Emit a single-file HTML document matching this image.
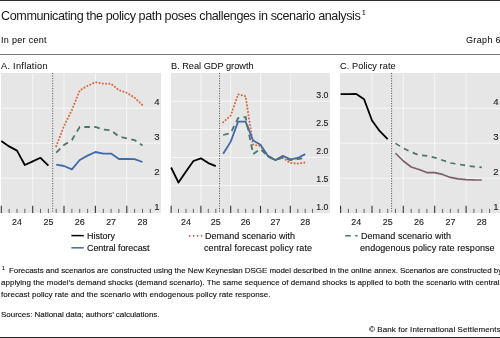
<!DOCTYPE html>
<html><head><meta charset="utf-8"><style>
html,body{margin:0;padding:0;background:#fff;}
svg{display:block;will-change:transform;}
text{font-family:"Liberation Sans", sans-serif;fill:#111;stroke:#111;stroke-width:0.12px;}
#title{stroke-width:0;fill:#1a1a1a;}
#inpc,#graph6,#tA,#tB,#tC{stroke-width:0.05px;}
.title{font-size:13px;}
.s9{font-size:9px;}
.t{font-size:9.6px;fill:#222;stroke:#222;}
.s85{font-size:8.6px;}
.fn{font-size:7.8px;}
</style></head><body>
<svg width="500" height="338" viewBox="0 0 500 338">
<rect x="0" y="0" width="500" height="338" fill="#fff"/>
<rect x="0" y="0" width="500" height="1" fill="#2e2e2e"/>
<rect x="0" y="337" width="500" height="1" fill="#262626"/>
<rect x="0" y="54" width="500" height="1" fill="#777"/>
<rect x="1" y="73" width="160" height="140" fill="#e6e6e6"/>
<line x1="1" x2="161" y1="108.2" y2="108.2" stroke="#f6f6f6" stroke-width="1"/>
<line x1="1" x2="161" y1="143.2" y2="143.2" stroke="#f6f6f6" stroke-width="1"/>
<line x1="1" x2="161" y1="178.2" y2="178.2" stroke="#f6f6f6" stroke-width="1"/>
<line x1="32.7" x2="32.7" y1="73" y2="213" stroke="#f6f6f6" stroke-width="1"/>
<line x1="64.0" x2="64.0" y1="73" y2="213" stroke="#f6f6f6" stroke-width="1"/>
<line x1="95.4" x2="95.4" y1="73" y2="213" stroke="#f6f6f6" stroke-width="1"/>
<line x1="126.8" x2="126.8" y1="73" y2="213" stroke="#f6f6f6" stroke-width="1"/>
<line x1="1.3" x2="1.3" y1="205.8" y2="213" stroke="#333" stroke-width="1.1"/>
<line x1="9.1" x2="9.1" y1="208.8" y2="213" stroke="#666" stroke-width="1.0"/>
<line x1="17.0" x2="17.0" y1="208.8" y2="213" stroke="#666" stroke-width="1.0"/>
<line x1="24.8" x2="24.8" y1="208.8" y2="213" stroke="#666" stroke-width="1.0"/>
<line x1="32.7" x2="32.7" y1="205.8" y2="213" stroke="#333" stroke-width="1.1"/>
<line x1="40.5" x2="40.5" y1="208.8" y2="213" stroke="#666" stroke-width="1.0"/>
<line x1="48.4" x2="48.4" y1="208.8" y2="213" stroke="#666" stroke-width="1.0"/>
<line x1="56.2" x2="56.2" y1="208.8" y2="213" stroke="#666" stroke-width="1.0"/>
<line x1="64.0" x2="64.0" y1="205.8" y2="213" stroke="#333" stroke-width="1.1"/>
<line x1="71.9" x2="71.9" y1="208.8" y2="213" stroke="#666" stroke-width="1.0"/>
<line x1="79.7" x2="79.7" y1="208.8" y2="213" stroke="#666" stroke-width="1.0"/>
<line x1="87.6" x2="87.6" y1="208.8" y2="213" stroke="#666" stroke-width="1.0"/>
<line x1="95.4" x2="95.4" y1="205.8" y2="213" stroke="#333" stroke-width="1.1"/>
<line x1="103.3" x2="103.3" y1="208.8" y2="213" stroke="#666" stroke-width="1.0"/>
<line x1="111.1" x2="111.1" y1="208.8" y2="213" stroke="#666" stroke-width="1.0"/>
<line x1="118.9" x2="118.9" y1="208.8" y2="213" stroke="#666" stroke-width="1.0"/>
<line x1="126.8" x2="126.8" y1="205.8" y2="213" stroke="#333" stroke-width="1.1"/>
<line x1="134.6" x2="134.6" y1="208.8" y2="213" stroke="#666" stroke-width="1.0"/>
<line x1="142.5" x2="142.5" y1="208.8" y2="213" stroke="#666" stroke-width="1.0"/>
<line x1="150.3" x2="150.3" y1="208.8" y2="213" stroke="#666" stroke-width="1.0"/>
<text x="17.0" y="224.9" text-anchor="middle" class="t" textLength="9.9" lengthAdjust="spacingAndGlyphs">24</text>
<text x="48.4" y="224.9" text-anchor="middle" class="t" textLength="9.9" lengthAdjust="spacingAndGlyphs">25</text>
<text x="79.7" y="224.9" text-anchor="middle" class="t" textLength="9.9" lengthAdjust="spacingAndGlyphs">26</text>
<text x="111.1" y="224.9" text-anchor="middle" class="t" textLength="9.9" lengthAdjust="spacingAndGlyphs">27</text>
<text x="142.5" y="224.9" text-anchor="middle" class="t" textLength="9.9" lengthAdjust="spacingAndGlyphs">28</text>
<line x1="52.7" x2="52.7" y1="73" y2="213" stroke="#5a5a5a" stroke-width="1" stroke-dasharray="1.1,1.4"/>
<text x="159.5" y="105.0" text-anchor="end" class="t">4</text>
<text x="159.5" y="140.0" text-anchor="end" class="t">3</text>
<text x="159.5" y="175.0" text-anchor="end" class="t">2</text>
<text x="159.5" y="209.9" text-anchor="end" class="t">1</text>
<polyline fill="none" stroke="#000" stroke-width="1.8" stroke-linejoin="round" points="1.3,141.0 9.1,146.4 17.0,150.6 24.8,165.0 32.7,161.4 40.5,157.8 48.4,165.6"/>
<polyline fill="none" stroke="#4169ab" stroke-width="1.8" stroke-linejoin="round" points="56.2,164.6 64.0,166.0 71.9,169.4 79.7,160.0 87.6,155.6 95.4,152.0 103.3,153.6 111.1,153.6 118.9,159.0 126.8,158.8 134.6,159.2 142.5,162.0"/>
<polyline fill="none" stroke="#d86a3e" stroke-width="2" stroke-linecap="round" stroke-dasharray="0.1,3.2" points="56.2,146.2 64.0,126.0 71.9,110.0 79.7,90.5 87.6,85.8 95.4,82.2 103.3,83.7 111.1,83.7 118.9,90.2 126.8,92.8 134.6,97.7 142.5,105.1"/>
<polyline fill="none" stroke="#4b7768" stroke-width="1.8" stroke-dasharray="5.6,4.4" points="56.2,152.6 64.0,145.0 71.9,140.0 79.7,127.0 87.6,127.0 95.4,127.0 103.3,129.6 111.1,130.2 118.9,136.7 126.8,138.3 134.6,140.0 142.5,145.5"/>
<rect x="171" y="73" width="159" height="140" fill="#e6e6e6"/>
<line x1="171" x2="330" y1="101.3" y2="101.3" stroke="#f6f6f6" stroke-width="1"/>
<line x1="171" x2="330" y1="129.4" y2="129.4" stroke="#f6f6f6" stroke-width="1"/>
<line x1="171" x2="330" y1="157.5" y2="157.5" stroke="#f6f6f6" stroke-width="1"/>
<line x1="171" x2="330" y1="185.6" y2="185.6" stroke="#f6f6f6" stroke-width="1"/>
<line x1="200.9" x2="200.9" y1="73" y2="213" stroke="#f6f6f6" stroke-width="1"/>
<line x1="230.7" x2="230.7" y1="73" y2="213" stroke="#f6f6f6" stroke-width="1"/>
<line x1="260.5" x2="260.5" y1="73" y2="213" stroke="#f6f6f6" stroke-width="1"/>
<line x1="290.3" x2="290.3" y1="73" y2="213" stroke="#f6f6f6" stroke-width="1"/>
<line x1="171.1" x2="171.1" y1="205.8" y2="213" stroke="#333" stroke-width="1.1"/>
<line x1="178.5" x2="178.5" y1="208.8" y2="213" stroke="#666" stroke-width="1.0"/>
<line x1="186.0" x2="186.0" y1="208.8" y2="213" stroke="#666" stroke-width="1.0"/>
<line x1="193.4" x2="193.4" y1="208.8" y2="213" stroke="#666" stroke-width="1.0"/>
<line x1="200.9" x2="200.9" y1="205.8" y2="213" stroke="#333" stroke-width="1.1"/>
<line x1="208.3" x2="208.3" y1="208.8" y2="213" stroke="#666" stroke-width="1.0"/>
<line x1="215.8" x2="215.8" y1="208.8" y2="213" stroke="#666" stroke-width="1.0"/>
<line x1="223.2" x2="223.2" y1="208.8" y2="213" stroke="#666" stroke-width="1.0"/>
<line x1="230.7" x2="230.7" y1="205.8" y2="213" stroke="#333" stroke-width="1.1"/>
<line x1="238.1" x2="238.1" y1="208.8" y2="213" stroke="#666" stroke-width="1.0"/>
<line x1="245.6" x2="245.6" y1="208.8" y2="213" stroke="#666" stroke-width="1.0"/>
<line x1="253.1" x2="253.1" y1="208.8" y2="213" stroke="#666" stroke-width="1.0"/>
<line x1="260.5" x2="260.5" y1="205.8" y2="213" stroke="#333" stroke-width="1.1"/>
<line x1="267.9" x2="267.9" y1="208.8" y2="213" stroke="#666" stroke-width="1.0"/>
<line x1="275.4" x2="275.4" y1="208.8" y2="213" stroke="#666" stroke-width="1.0"/>
<line x1="282.9" x2="282.9" y1="208.8" y2="213" stroke="#666" stroke-width="1.0"/>
<line x1="290.3" x2="290.3" y1="205.8" y2="213" stroke="#333" stroke-width="1.1"/>
<line x1="297.8" x2="297.8" y1="208.8" y2="213" stroke="#666" stroke-width="1.0"/>
<line x1="305.2" x2="305.2" y1="208.8" y2="213" stroke="#666" stroke-width="1.0"/>
<line x1="312.6" x2="312.6" y1="208.8" y2="213" stroke="#666" stroke-width="1.0"/>
<text x="186.0" y="224.9" text-anchor="middle" class="t" textLength="9.9" lengthAdjust="spacingAndGlyphs">24</text>
<text x="215.8" y="224.9" text-anchor="middle" class="t" textLength="9.9" lengthAdjust="spacingAndGlyphs">25</text>
<text x="245.6" y="224.9" text-anchor="middle" class="t" textLength="9.9" lengthAdjust="spacingAndGlyphs">26</text>
<text x="275.4" y="224.9" text-anchor="middle" class="t" textLength="9.9" lengthAdjust="spacingAndGlyphs">27</text>
<text x="305.2" y="224.9" text-anchor="middle" class="t" textLength="9.9" lengthAdjust="spacingAndGlyphs">28</text>
<line x1="219.5" x2="219.5" y1="73" y2="213" stroke="#5a5a5a" stroke-width="1" stroke-dasharray="1.1,1.4"/>
<text x="328.5" y="98.1" text-anchor="end" class="t" textLength="12.2" lengthAdjust="spacingAndGlyphs">3.0</text>
<text x="328.5" y="126.2" text-anchor="end" class="t" textLength="12.2" lengthAdjust="spacingAndGlyphs">2.5</text>
<text x="328.5" y="154.3" text-anchor="end" class="t" textLength="12.2" lengthAdjust="spacingAndGlyphs">2.0</text>
<text x="328.5" y="182.4" text-anchor="end" class="t" textLength="12.2" lengthAdjust="spacingAndGlyphs">1.5</text>
<text x="328.5" y="209.9" text-anchor="end" class="t" textLength="12.2" lengthAdjust="spacingAndGlyphs">1.0</text>
<polyline fill="none" stroke="#000" stroke-width="1.8" stroke-linejoin="round" points="171.1,167.5 178.5,182.6 186.0,171.5 193.4,161.0 200.9,158.3 208.3,163.1 215.8,166.1"/>
<polyline fill="none" stroke="#d86a3e" stroke-width="2" stroke-linecap="round" stroke-dasharray="0.1,3.2" points="223.2,122.3 230.7,115.5 238.1,94.3 245.6,96.3 253.1,144.7 260.5,146.1 267.9,155.9 275.4,160.1 282.9,158.0 290.3,162.9 297.8,163.6 305.2,162.5"/>
<polyline fill="none" stroke="#4169ab" stroke-width="1.8" stroke-linejoin="round" points="223.2,153.8 230.7,141.6 238.1,121.7 245.6,121.7 253.1,140.5 260.5,144.7 267.9,155.9 275.4,160.1 282.9,155.9 290.3,159.4 297.8,158.0 305.2,154.1"/>
<polyline fill="none" stroke="#4b7768" stroke-width="1.8" stroke-dasharray="5.6,4.4" points="223.2,135.0 230.7,133.0 238.1,118.0 245.6,117.0 253.1,154.0 260.5,149.0 267.9,156.6 275.4,160.1 282.9,157.3 290.3,160.1 297.8,159.0 305.2,158.0"/>
<rect x="340" y="73" width="160" height="140" fill="#e6e6e6"/>
<line x1="340" x2="500" y1="108.2" y2="108.2" stroke="#f6f6f6" stroke-width="1"/>
<line x1="340" x2="500" y1="143.2" y2="143.2" stroke="#f6f6f6" stroke-width="1"/>
<line x1="340" x2="500" y1="178.2" y2="178.2" stroke="#f6f6f6" stroke-width="1"/>
<line x1="372.0" x2="372.0" y1="73" y2="213" stroke="#f6f6f6" stroke-width="1"/>
<line x1="403.3" x2="403.3" y1="73" y2="213" stroke="#f6f6f6" stroke-width="1"/>
<line x1="434.7" x2="434.7" y1="73" y2="213" stroke="#f6f6f6" stroke-width="1"/>
<line x1="466.1" x2="466.1" y1="73" y2="213" stroke="#f6f6f6" stroke-width="1"/>
<line x1="340.6" x2="340.6" y1="205.8" y2="213" stroke="#333" stroke-width="1.1"/>
<line x1="348.4" x2="348.4" y1="208.8" y2="213" stroke="#666" stroke-width="1.0"/>
<line x1="356.3" x2="356.3" y1="208.8" y2="213" stroke="#666" stroke-width="1.0"/>
<line x1="364.1" x2="364.1" y1="208.8" y2="213" stroke="#666" stroke-width="1.0"/>
<line x1="372.0" x2="372.0" y1="205.8" y2="213" stroke="#333" stroke-width="1.1"/>
<line x1="379.8" x2="379.8" y1="208.8" y2="213" stroke="#666" stroke-width="1.0"/>
<line x1="387.7" x2="387.7" y1="208.8" y2="213" stroke="#666" stroke-width="1.0"/>
<line x1="395.5" x2="395.5" y1="208.8" y2="213" stroke="#666" stroke-width="1.0"/>
<line x1="403.3" x2="403.3" y1="205.8" y2="213" stroke="#333" stroke-width="1.1"/>
<line x1="411.2" x2="411.2" y1="208.8" y2="213" stroke="#666" stroke-width="1.0"/>
<line x1="419.0" x2="419.0" y1="208.8" y2="213" stroke="#666" stroke-width="1.0"/>
<line x1="426.9" x2="426.9" y1="208.8" y2="213" stroke="#666" stroke-width="1.0"/>
<line x1="434.7" x2="434.7" y1="205.8" y2="213" stroke="#333" stroke-width="1.1"/>
<line x1="442.6" x2="442.6" y1="208.8" y2="213" stroke="#666" stroke-width="1.0"/>
<line x1="450.4" x2="450.4" y1="208.8" y2="213" stroke="#666" stroke-width="1.0"/>
<line x1="458.2" x2="458.2" y1="208.8" y2="213" stroke="#666" stroke-width="1.0"/>
<line x1="466.1" x2="466.1" y1="205.8" y2="213" stroke="#333" stroke-width="1.1"/>
<line x1="473.9" x2="473.9" y1="208.8" y2="213" stroke="#666" stroke-width="1.0"/>
<line x1="481.8" x2="481.8" y1="208.8" y2="213" stroke="#666" stroke-width="1.0"/>
<line x1="489.6" x2="489.6" y1="208.8" y2="213" stroke="#666" stroke-width="1.0"/>
<text x="356.3" y="224.9" text-anchor="middle" class="t" textLength="9.9" lengthAdjust="spacingAndGlyphs">24</text>
<text x="387.7" y="224.9" text-anchor="middle" class="t" textLength="9.9" lengthAdjust="spacingAndGlyphs">25</text>
<text x="419.0" y="224.9" text-anchor="middle" class="t" textLength="9.9" lengthAdjust="spacingAndGlyphs">26</text>
<text x="450.4" y="224.9" text-anchor="middle" class="t" textLength="9.9" lengthAdjust="spacingAndGlyphs">27</text>
<text x="481.8" y="224.9" text-anchor="middle" class="t" textLength="9.9" lengthAdjust="spacingAndGlyphs">28</text>
<line x1="391.6" x2="391.6" y1="73" y2="213" stroke="#5a5a5a" stroke-width="1" stroke-dasharray="1.1,1.4"/>
<text x="498.5" y="105.0" text-anchor="end" class="t">4</text>
<text x="498.5" y="140.0" text-anchor="end" class="t">3</text>
<text x="498.5" y="175.0" text-anchor="end" class="t">2</text>
<text x="498.5" y="209.9" text-anchor="end" class="t">1</text>
<polyline fill="none" stroke="#000" stroke-width="1.8" stroke-linejoin="round" points="340.6,94.2 348.4,94.1 356.3,94.0 364.1,99.2 372.0,120.5 379.8,131.2 387.7,139.2"/>
<polyline fill="none" stroke="#7b6066" stroke-width="1.6" stroke-linejoin="round" points="395.5,153.3 403.3,161.0 411.2,167.0 419.0,169.4 426.9,172.6 434.7,172.6 442.6,174.4 450.4,177.4 458.2,178.9 466.1,179.6 473.9,179.9 481.8,180.0"/>
<polyline fill="none" stroke="#4b7768" stroke-width="1.7" stroke-dasharray="5.2,4.6" points="395.5,143.4 403.3,148.2 411.2,152.0 419.0,155.2 426.9,155.9 434.7,157.6 442.6,160.2 450.4,163.0 458.2,164.2 466.1,165.6 473.9,166.6 481.8,167.3"/>
<line x1="71.4" x2="83.8" y1="235.6" y2="235.6" stroke="#000" stroke-width="1.5"/>
<line x1="71.4" x2="83.8" y1="247.8" y2="247.8" stroke="#4169ab" stroke-width="1.5"/>
<line x1="189.6" x2="202.2" y1="235.8" y2="235.8" stroke="#b95e3e" stroke-width="1.7" stroke-linecap="round" stroke-dasharray="0.1,3.9"/>
<line x1="345.2" x2="357.6" y1="235.8" y2="235.8" stroke="#4b7768" stroke-width="1.5" stroke-dasharray="5.6,4.4"/>
<text id="title" x="1.00" y="20.20" style="font-size:12.6px" textLength="359.81" lengthAdjust="spacing">Communicating the policy path poses challenges in scenario analysis</text>
<text id="sup1" x="362.00" y="14.80" style="font-size:6.5px">1</text>
<text id="inpc" x="1.00" y="43.20" style="font-size:9px" textLength="45.59" lengthAdjust="spacing">In per cent</text>
<text id="graph6" x="466.00" y="43.10" style="font-size:9px" textLength="34.63" lengthAdjust="spacing">Graph 6</text>
<text id="tA" x="1.00" y="68.50" style="font-size:9.2px" textLength="46.52" lengthAdjust="spacing">A. Inflation</text>
<text id="tB" x="171.00" y="68.50" style="font-size:9.2px" textLength="82.56" lengthAdjust="spacing">B. Real GDP growth</text>
<text id="tC" x="340.00" y="68.50" style="font-size:9.2px" textLength="55.69" lengthAdjust="spacing">C. Policy rate</text>
<text id="leg1" x="87.00" y="238.80" style="font-size:9.0px" textLength="28.02" lengthAdjust="spacing">History</text>
<text id="leg2" x="87.00" y="251.20" style="font-size:9.0px" textLength="62.52" lengthAdjust="spacing">Central forecast</text>
<text id="leg3a" x="205.00" y="238.80" style="font-size:9.0px" textLength="90.06" lengthAdjust="spacing">Demand scenario with</text>
<text id="leg3b" x="204.00" y="251.20" style="font-size:9.0px" textLength="108.08" lengthAdjust="spacing">central forecast policy rate</text>
<text id="leg4a" x="361.00" y="238.80" style="font-size:9.0px" textLength="90.06" lengthAdjust="spacing">Demand scenario with</text>
<text id="leg4b" x="360.00" y="251.20" style="font-size:9.0px" textLength="134.62" lengthAdjust="spacing">endogenous policy rate response</text>
<text id="fnsup" x="2.00" y="270.20" style="font-size:5px">1</text>
<text id="fn1" x="9.00" y="272.90" style="font-size:8.0px" textLength="493.20" lengthAdjust="spacing">Forecasts and scenarios are constructed using the New Keynesian DSGE model described in the online annex. Scenarios are constructed by</text>
<text id="fn2" x="1.00" y="285.40" style="font-size:8.0px" textLength="498.60" lengthAdjust="spacing">applying the model’s demand shocks (demand scenario). The same sequence of demand shocks is applied to both the scenario with central</text>
<text id="fn3" x="1.00" y="297.40" style="font-size:8.0px" textLength="269.52" lengthAdjust="spacing">forecast policy rate and the scenario with endogenous policy rate response.</text>
<text id="src" x="1.00" y="316.60" style="font-size:8.0px" textLength="158.50" lengthAdjust="spacing">Sources: National data; authors’ calculations.</text>
<text id="copy" x="369.00" y="331.50" style="font-size:8.0px" textLength="131.66" lengthAdjust="spacing">© Bank for International Settlements</text>
</svg>
</body></html>
